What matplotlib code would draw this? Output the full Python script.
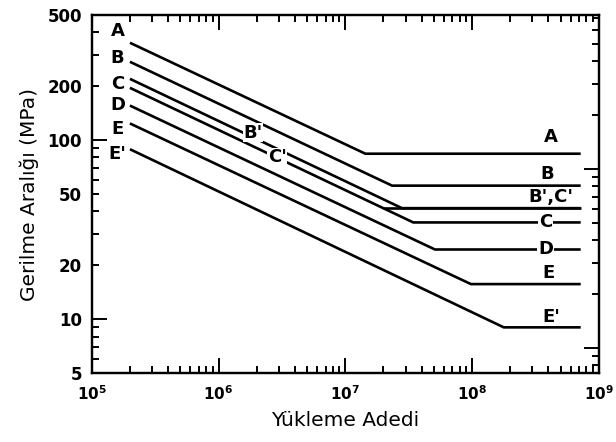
"""
S-N fatigue design curves (Yükleme Adedi vs Gerilme Aralığı).
Output: out.png
"""

import matplotlib
matplotlib.use("Agg")
import matplotlib.pyplot as plt
import matplotlib.ticker as ticker

plt.rcParams.update({
    "font.family": "DejaVu Sans",
    "mathtext.fontset": "dejavusans",
})

# ── data ──────────────────────────────────────────────────────────────────────
# sloped segment: (N_start, S_start) -> (N_knee, S_knee), then flat to N_END
CATEGORIES = ["A", "B", "B'", "C", "D", "E", "E'"]
N_START    = [2.0e5, 2.0e5, 2.0e5, 2.0e5, 2.0e5, 2.0e5, 2.0e5]
S_START    = [350, 274, 220, 196, 156, 124, 89]
N_KNEE     = [1.44e7, 2.34e7, 2.8e7, 3.44e7, 5.1e7, 9.8e7, 1.78e8]
S_KNEE     = [84, 55.7, 41.7, 34.7, 24.5, 15.7, 9.0]
N_END      = 7.2e8

# C' threshold: flat branch leaving the C line
C_PRIME_N = 2.0e7
C_PRIME_S = 41.7

MPA_PER_KSI = 6.895

X_TICKS = [1e5, 1e6, 1e7, 1e8, 1e9]
Y_LABELLED = [5, 10, 20, 50, 100, 200, 500]

# ── figure ────────────────────────────────────────────────────────────────────
fig = plt.figure(figsize=(6.16, 4.42), dpi=100)
ax = fig.add_axes([0.149, 0.156, 0.823, 0.810])

LW = 1.9
for n0, s0, nk, sk in zip(N_START, S_START, N_KNEE, S_KNEE):
    ax.plot([n0, nk, N_END], [s0, sk, sk], color="black", lw=LW,
            solid_capstyle="butt", zorder=2)
ax.plot([C_PRIME_N, N_END], [C_PRIME_S, C_PRIME_S], color="black", lw=LW,
        solid_capstyle="butt", zorder=2)

ax.set_xscale("log")
ax.set_yscale("log")
ax.set_xlim(1e5, 1e9)
ax.set_ylim(5, 500)

# ── labels on the curves ──────────────────────────────────────────────────────
lab_kw = dict(fontsize=13, fontweight="bold", ha="center", va="center", zorder=4)
left_labels = [("A", 406), ("B", 287), ("C", 207), ("D", 158), ("E", 116), ("E'", 84)]
for t, y in left_labels:
    ax.text(1.6e5, y, t, **lab_kw)

right_labels = [("A", 4.2e8, 104), ("B", 3.95e8, 65), ("B',C'", 4.2e8, 48),
                ("C", 3.8e8, 34.7), ("D", 3.8e8, 24.5), ("E", 4.0e8, 18),
                ("E'", 4.2e8, 10.3)]
box = dict(facecolor="white", edgecolor="none", pad=0.5)
for t, x, y in right_labels:
    kw = dict(lab_kw)
    if t in ("C", "D"):
        kw["bbox"] = box
    ax.text(x, y, t, **kw)

ax.text(1.87e6, 110, "B'", bbox=box, **lab_kw)
ax.text(2.9e6, 80, "C'", bbox=box, **lab_kw)

# ── axes styling ──────────────────────────────────────────────────────────────
for sp in ax.spines.values():
    sp.set_linewidth(1.6)

ax.xaxis.set_major_locator(ticker.FixedLocator(X_TICKS))
ax.xaxis.set_minor_locator(ticker.LogLocator(base=10, subs=range(2, 10), numticks=20))
ax.xaxis.set_major_formatter(ticker.FuncFormatter(
    lambda v, p: r"$\mathbf{10^{%d}}$" % round(__import__("math").log10(v))))
ax.xaxis.set_minor_formatter(ticker.NullFormatter())

ax.yaxis.set_major_locator(ticker.FixedLocator([10, 100]))
ax.yaxis.set_minor_locator(ticker.LogLocator(base=10, subs=range(2, 10), numticks=20))

def ylab(v, p):
    for t in Y_LABELLED:
        if abs(v - t) < 1e-6 * t:
            return str(t)
    return ""

ax.yaxis.set_major_formatter(ticker.FuncFormatter(ylab))
ax.yaxis.set_minor_formatter(ticker.FuncFormatter(ylab))

ax.tick_params(axis="both", which="both", direction="in", top=True, right=False,
               width=1.4)
ax.tick_params(axis="both", which="major", length=11)
ax.tick_params(axis="both", which="minor", length=5)
ax.tick_params(axis="x", which="both", labelsize=11, pad=8)
ax.tick_params(axis="y", which="both", labelsize=12, pad=7)
for lbl in ax.get_yticklabels(which="both"):
    lbl.set_fontweight("bold")

# right axis in ksi (ticks only, no labels)
ax2 = ax.twinx()
ax2.set_yscale("log")
ax2.set_ylim(5 / MPA_PER_KSI, 500 / MPA_PER_KSI)
ax2.yaxis.set_major_locator(ticker.LogLocator(base=10, numticks=10))
ax2.yaxis.set_minor_locator(ticker.LogLocator(base=10, subs=range(2, 10), numticks=20))
ax2.tick_params(axis="y", which="both", direction="in", labelright=False, width=1.4)
ax2.tick_params(axis="y", which="major", length=11)
ax2.tick_params(axis="y", which="minor", length=5)
for sp in ax2.spines.values():
    sp.set_linewidth(1.6)

ax.set_xlabel("Yükleme Adedi", fontsize=14.5, labelpad=6)
ax.set_ylabel("Gerilme Aralığı (MPa)", fontsize=14.5, labelpad=6)

fig.savefig("out.png", dpi=100)
